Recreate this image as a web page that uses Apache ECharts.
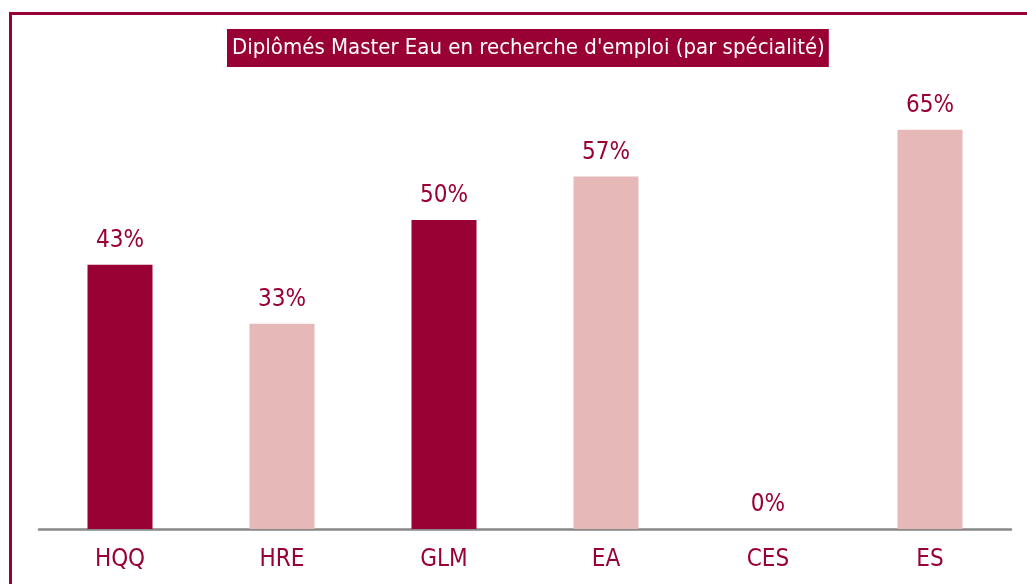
<!DOCTYPE html>
<html>
<head>
<meta charset="utf-8">
<script src="https://cdn.jsdelivr.net/npm/echarts@6/dist/echarts.min.js"></script>
<style>
  html, body { margin: 0; padding: 0; background: #fff; }
  .main { width: 1027px; height: 584px; }
</style>
</head>
<body>
<div class="main"></div>
<script>
  let categories = ['HQQ', 'HRE', 'GLM', 'EA', 'CES', 'ES'];
  let values = [43, 33.4, 50.3, 57.4, 0, 65];
  let barColors = ['#990033', '#E6B8B7', '#990033', '#E6B8B7', '#990033', '#E6B8B7'];

  const FONT = '"Liberation Sans Narrow", "Arial Narrow", "DejaVu Sans Condensed", sans-serif';

  /* global echarts: true */
  let myChart = echarts.init(document.querySelector('.main'));

  let option = {
    animation: false,
    title: {
      text: 'Diplômés Master Eau en recherche d\'emploi (par spécialité)',
      left: 227,
      top: 29,
      padding: [8, 4, 8, 5],
      backgroundColor: '#990033',
      textStyle: {
        color: '#ffffff',
        fontFamily: FONT,
        fontWeight: 'normal',
        fontSize: 22
      }
    },
    graphic: [{
      type: 'rect',
      shape: { x: 10.5, y: 13.5, width: 1100, height: 700 },
      style: { fill: 'none', stroke: '#990033', lineWidth: 3 },
      silent: true
    }],
    grid: { left: 39, right: 16, top: 99, bottom: 55 },
    xAxis: {
      type: 'category',
      data: categories,
      axisTick: { show: false },
      axisLine: { lineStyle: { color: '#888888', width: 2.5 } },
      axisLabel: {
        color: '#990033',
        fontFamily: FONT,
        fontSize: 24,
        margin: 19
      }
    },
    yAxis: {
      type: 'value',
      min: 0,
      max: 70,
      show: false,
      splitLine: { show: false }
    },
    series: [{
      type: 'bar',
      barWidth: 65,
      data: values.map((v, i) => ({ value: v, itemStyle: { color: barColors[i] } })),
      label: {
        show: true,
        position: 'top',
        distance: 12,
        formatter: (p) => Math.round(p.value) + '%',
        color: '#990033',
        fontFamily: FONT,
        fontSize: 24
      }
    }]
  };

  myChart.setOption(option);
</script>
</body>
</html>
